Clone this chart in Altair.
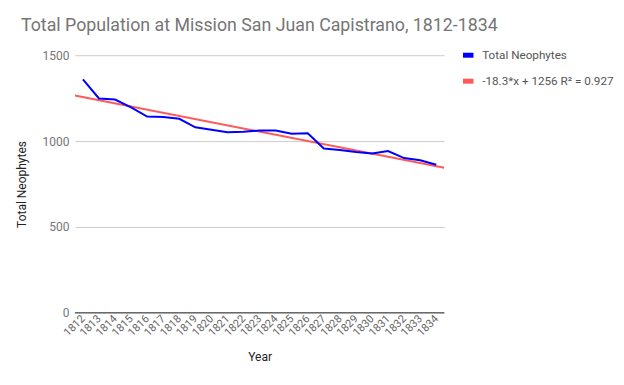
import altair as alt
import pandas as pd

years = list(range(1812, 1835))
neophytes = [1359, 1248, 1242, 1196, 1143, 1140, 1130, 1080, 1066, 1052, 1054, 1062,
             1062, 1043, 1045, 957, 948, 936, 928, 942, 901, 888, 862]

series_names = ["Total Neophytes", "-18.3*x + 1256 R² = 0.927"]
series_colors = ["#0000ff", "#ff5a5a"]
slope = -18.3
intercept = 1256
trend_years = [1811.5, 1834.5]

obs = pd.DataFrame({"year": years, "value": neophytes, "series": series_names[0]})
trend = pd.DataFrame({
    "year": trend_years,
    "value": [intercept + slope * (y - years[0]) for y in trend_years],
    "series": series_names[1],
})

color = alt.Color(
    "series:N",
    scale=alt.Scale(domain=series_names, range=series_colors),
    legend=alt.Legend(
        title=None, orient="none", legendX=386, legendY=-8,
        symbolType="stroke", symbolSize=110, symbolStrokeWidth=5,
        labelFont="Roboto", labelFontSize=11.7, labelColor="#555555", labelLimit=300,
        rowPadding=6, labelOffset=6,
    ),
)

xenc = alt.X(
    "year:Q",
    scale=alt.Scale(domain=[1811.5, 1834.5], nice=False, zero=False),
    axis=alt.Axis(
        values=years, format="d", labelAngle=-45, grid=False, ticks=False, domain=False,
        labelOverlap=False, labelFont="Roboto", labelFontSize=11, labelColor="#666666",
        labelAlign="right", labelBaseline="middle", labelPadding=4,
        title="Year", titleFont="Roboto", titleFontSize=12, titleFontWeight="normal",
        titleColor="#222222", titlePadding=14,
    ),
)
yenc = alt.Y(
    "value:Q",
    scale=alt.Scale(domain=[0, 1500], nice=False),
    axis=alt.Axis(
        values=[0, 500, 1000, 1500], format="d", grid=True, gridColor="#cccccc", ticks=False,
        domain=False, labelFont="Roboto", labelFontSize=12, labelColor="#757575",
        labelPadding=6, title="Total Neophytes", titleFont="Roboto", titleFontSize=12,
        titleFontWeight="normal", titleColor="#222222", titlePadding=13,
    ),
)

baseline = alt.Chart(pd.DataFrame({"value": [0]})).mark_rule(color="#333333", strokeWidth=1).encode(
    y=yenc
)
trend_line = alt.Chart(trend).mark_line(strokeWidth=2, clip=True).encode(
    x=xenc, y=yenc, color=color
)
obs_line = alt.Chart(obs).mark_line(strokeWidth=2).encode(x=xenc, y=yenc, color=color)

chart = alt.layer(baseline, trend_line, obs_line).properties(
    width=370,
    height=258,
    autosize=alt.AutoSizeParams(type="none"),
    padding={"left": 67, "top": 47, "right": 172, "bottom": 56},
    title=alt.Title(
        "Total Population at Mission San Juan Capistrano, 1812-1834",
        anchor="start", frame="group", dx=-54, dy=-8, font="Roboto", fontSize=17.8,
        fontWeight="normal", color="#757575",
    ),
).configure(background="white").configure_view(stroke=None)

chart.save("out.html", embed_options={"renderer": "svg", "actions": False})
